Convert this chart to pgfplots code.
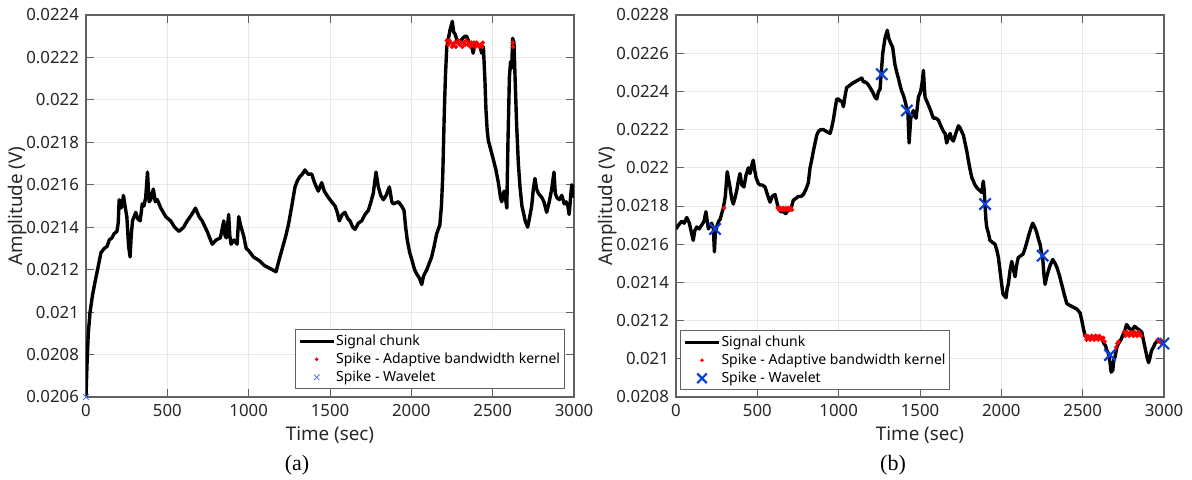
\documentclass[border=0pt]{standalone}
\usepackage{fontspec}
\setmainfont{Noto Sans}
\newfontfamily\capfont{Liberation Serif}
\usepackage{pgfplots}
\pgfplotsset{compat=1.18}

\definecolor{axgray}{rgb}{0.38,0.38,0.38}
\definecolor{txtgray}{rgb}{0.15,0.15,0.15}
\definecolor{spikeblue}{rgb}{0.05,0.25,0.85}

\pgfplotsset{
  matlab/.style={
    scale only axis, width=244pt, height=191pt,
    xmin=0, xmax=3000, xtick distance=500,
    scaled y ticks=false,
    /pgf/number format/assume math mode=true,
    yticklabel style={/pgf/number format/fixed, /pgf/number format/precision=4},
    xticklabel style={/pgf/number format/fixed, /pgf/number format/1000 sep={}},
    tick label style={font=\fontsize{8.4}{10}\selectfont, text=txtgray},
    label style={font=\fontsize{9.4}{11}\selectfont, text=txtgray},
    xlabel={Time (sec)}, ylabel={Amplitude (V)},
    xlabel style={yshift=2pt},
    ylabel style={at={(axis description cs:-0.141,0.5)}, anchor=center},
    axis line style={axgray, line width=0.6pt},
    tick style={axgray, line width=0.5pt},
    tick align=inside, major tick length=4pt,
    grid=major, grid style={gray!18, line width=0.4pt},
    legend style={font=\fontsize{7.0}{8.2}\selectfont, draw=axgray, fill=white,
      line width=0.5pt, inner sep=1.6pt, row sep=1pt,
      nodes={inner sep=0.6pt}, cells={anchor=west}},
    legend cell align=left,
  },
  sig/.style={black, line width=1.7pt, line join=round,
    legend image code/.code={\draw[##1, line width=1.3pt] (0pt,0pt) -- (17pt,0pt);}},
}

\begin{document}
\begin{tikzpicture}
\path[use as bounding box] (-43pt,-41pt) rectangle (553pt,198.5pt);

% ---------- (a) ----------
\begin{axis}[matlab, ymin=0.0206, ymax=0.0224, ytick distance=0.0002,
  legend style={at={(1,0)}, anchor=south east, xshift=-4.5pt, yshift=4pt}]
\addplot[sig] coordinates {
(0,0.02060) (6,0.02075) (14,0.02090) (25,0.02100) (40,0.02108) (55,0.02114)
(71,0.02120) (92,0.02128) (112,0.02130) (130,0.02131) (143,0.02134) (160,0.02135)
(173,0.02137) (190,0.02138) (198,0.02142) (204,0.02153) (214,0.02149) (222,0.02150)
(230,0.02155) (240,0.02150) (251,0.02145) (262,0.02131) (271,0.02126) (278,0.02136)
(286,0.02143) (296,0.02145) (306,0.02147) (318,0.02144) (333,0.02143) (346,0.02151)
(356,0.02150) (367,0.02154) (378,0.02166) (388,0.02152) (398,0.02153) (414,0.02158)
(426,0.02152) (438,0.02153) (460,0.02149) (490,0.02145) (520,0.02143) (545,0.02140)
(571,0.02138) (600,0.02140) (622,0.02143) (650,0.02146) (673,0.02149) (695,0.02145)
(714,0.02143) (745,0.02138) (776,0.02132) (800,0.02134) (826,0.02135) (847,0.02143)
(855,0.02136) (863,0.02135) (877,0.02146) (884,0.02136) (892,0.02132) (910,0.02134)
(929,0.02132) (939,0.02145) (950,0.02141) (969,0.02136) (985,0.02130) (1000,0.02129)
(1029,0.02126) (1050,0.02125) (1070,0.02124) (1095,0.02122) (1121,0.02121) (1145,0.02120)
(1168,0.02119) (1185,0.02124) (1203,0.02129) (1225,0.02135) (1244,0.02141) (1265,0.02150)
(1285,0.02159) (1300,0.02162) (1316,0.02164) (1330,0.02165) (1346,0.02167) (1365,0.02165)
(1388,0.02165) (1405,0.02161) (1428,0.02157) (1449,0.02161) (1465,0.02157) (1490,0.02154)
(1510,0.02152) (1531,0.02150) (1545,0.02147) (1557,0.02143) (1575,0.02146) (1592,0.02147)
(1610,0.02144) (1623,0.02143) (1640,0.02140) (1654,0.02139) (1675,0.02142) (1695,0.02143)
(1715,0.02146) (1736,0.02148) (1752,0.02152) (1766,0.02156) (1783,0.02166) (1797,0.02159)
(1812,0.02155) (1828,0.02153) (1845,0.02155) (1865,0.02159) (1880,0.02152) (1889,0.02151)
(1920,0.02152) (1940,0.02150) (1955,0.02148) (1965,0.02140) (1975,0.02134) (1990,0.02128)
(2002,0.02125) (2020,0.02120) (2033,0.02118) (2050,0.02116) (2064,0.02113) (2075,0.02117)
(2095,0.02120) (2110,0.02123) (2125,0.02126) (2140,0.02131) (2156,0.02137) (2175,0.02141)
(2185,0.02150) (2193,0.02164) (2203,0.02195) (2210,0.02212) (2218,0.02225) (2228,0.02229)
(2238,0.02233) (2252,0.02237) (2260,0.02232) (2269,0.02231) (2285,0.02227) (2299,0.02227)
(2315,0.02229) (2330,0.02230) (2340,0.02230) (2355,0.02227) (2370,0.02226) (2380,0.02222)
(2392,0.02227) (2410,0.02226) (2422,0.02225) (2433,0.02222) (2443,0.02225) (2452,0.02210)
(2459,0.02195) (2466,0.02186) (2473,0.02181) (2490,0.02176) (2504,0.02172) (2520,0.02167)
(2535,0.02161) (2548,0.02154) (2556,0.02152) (2570,0.02157) (2580,0.02153) (2587,0.02149)
(2594,0.02180) (2603,0.02211) (2610,0.02218) (2617,0.02215) (2623,0.02229) (2631,0.02227)
(2640,0.02205) (2648,0.02187) (2658,0.02170) (2668,0.02159) (2680,0.02150) (2689,0.02147)
(2700,0.02143) (2715,0.02140) (2728,0.02145) (2740,0.02150) (2750,0.02158) (2760,0.02163)
(2770,0.02158) (2781,0.02156) (2802,0.02154) (2815,0.02152) (2832,0.02147) (2848,0.02152)
(2863,0.02158) (2877,0.02166) (2885,0.02156) (2894,0.02154) (2910,0.02153) (2925,0.02155)
(2940,0.02151) (2951,0.02152) (2962,0.02150) (2970,0.02146) (2980,0.02155) (2986,0.02160)
(2993,0.02159) (3000,0.02154)
};
\addlegendentry{Signal chunk}
\addplot[only marks, mark=*, mark size=0.9pt, red, mark options={draw=red, fill=red},
  legend image post style={mark size=0.6pt}] coordinates {
(2218,0.02228) (2226,0.02226) (2234,0.02228) (2242,0.02227) (2250,0.02225) (2258,0.02226)
(2266,0.02227) (2274,0.02225) (2282,0.02227) (2290,0.02228) (2298,0.02226) (2306,0.02227)
(2314,0.02225) (2322,0.02227) (2330,0.02226) (2338,0.02228) (2346,0.02226) (2354,0.02227)
(2362,0.02225) (2370,0.02227) (2378,0.02226) (2386,0.02227) (2394,0.02225) (2402,0.02227)
(2410,0.02226) (2418,0.02225) (2426,0.02226) (2434,0.02225) (2440,0.02227)
(2623,0.02227) (2626,0.02225)
};
\addlegendentry{Spike - Adaptive bandwidth kernel}
\addplot[only marks, mark=x, mark size=2pt, spikeblue!70, line width=0.4pt] coordinates {
(0,0.02060)
};
\addlegendentry{Spike - Wavelet}
\end{axis}
\node[font=\capfont\fontsize{11}{13}\selectfont] at (105.5pt,-34pt) {(a)};

% ---------- (b) ----------
\begin{axis}[matlab, at={(295pt,0pt)}, ymin=0.0208, ymax=0.0228, ytick distance=0.0002,
  legend style={at={(0,0)}, anchor=south west, xshift=2pt, yshift=3.5pt}]
\addplot[sig] coordinates {
(0,0.02168) (15,0.02170) (35,0.02172) (50,0.02171) (66,0.02174) (82,0.02171)
(95,0.02166) (106,0.02162) (115,0.02167) (127,0.02169) (142,0.02168) (158,0.02170)
(172,0.02172) (184,0.02177) (192,0.02172) (199,0.02168) (210,0.02170) (219,0.02171)
(230,0.02168) (236,0.02156) (242,0.02166) (250,0.02169) (262,0.02172) (271,0.02173)
(281,0.02176) (291,0.02179) (303,0.02185) (315,0.02198) (323,0.02194) (332,0.02190)
(342,0.02184) (352,0.02181) (362,0.02184) (373,0.02188) (383,0.02193) (393,0.02197)
(405,0.02191) (418,0.02190) (430,0.02196) (445,0.02200) (455,0.02197) (465,0.02201)
(475,0.02204) (483,0.02199) (492,0.02195) (505,0.02192) (516,0.02191) (530,0.02191)
(547,0.02190) (562,0.02186) (578,0.02182) (592,0.02185) (609,0.02186) (620,0.02182)
(629,0.02179) (645,0.02177) (660,0.02177) (675,0.02176) (690,0.02178) (705,0.02178)
(721,0.02183) (737,0.02184) (752,0.02185) (768,0.02185) (783,0.02186) (800,0.02189)
(813,0.02192) (824,0.02200) (834,0.02204) (845,0.02209) (855,0.02213) (865,0.02217)
(875,0.02219) (890,0.02220) (906,0.02220) (925,0.02219) (947,0.02218) (957,0.02221)
(967,0.02225) (978,0.02231) (988,0.02236) (1000,0.02236) (1008,0.02235) (1019,0.02235)
(1029,0.02232) (1040,0.02238) (1049,0.02242) (1066,0.02243) (1080,0.02244) (1100,0.02245)
(1121,0.02246) (1142,0.02247) (1152,0.02245) (1162,0.02245) (1178,0.02244) (1193,0.02242)
(1213,0.02239) (1223,0.02237) (1234,0.02236) (1245,0.02240) (1254,0.02241) (1262,0.02250)
(1271,0.02260) (1285,0.02268) (1292,0.02270) (1299,0.02272) (1307,0.02268) (1316,0.02266)
(1332,0.02263) (1346,0.02254) (1357,0.02250) (1367,0.02247) (1378,0.02243) (1388,0.02240)
(1398,0.02238) (1408,0.02235) (1419,0.02231) (1425,0.02230) (1433,0.02213) (1443,0.02226)
(1451,0.02228) (1459,0.02230) (1468,0.02227) (1476,0.02226) (1490,0.02237) (1504,0.02240)
(1514,0.02245) (1521,0.02251) (1526,0.02243) (1531,0.02237) (1541,0.02235) (1551,0.02233)
(1565,0.02230) (1582,0.02226) (1597,0.02226) (1613,0.02225) (1628,0.02222) (1644,0.02219)
(1654,0.02218) (1664,0.02213) (1675,0.02216) (1685,0.02218) (1695,0.02215) (1705,0.02214)
(1720,0.02218) (1736,0.02222) (1746,0.02221) (1756,0.02219) (1767,0.02217) (1777,0.02213)
(1787,0.02209) (1797,0.02204) (1808,0.02199) (1818,0.02195) (1828,0.02193) (1838,0.02191)
(1855,0.02189) (1869,0.02188) (1880,0.02187) (1889,0.02193) (1895,0.02188) (1900,0.02180)
(1905,0.02173) (1910,0.02169) (1920,0.02166) (1930,0.02162) (1945,0.02161) (1961,0.02160)
(1972,0.02157) (1982,0.02153) (1992,0.02146) (2002,0.02139) (2010,0.02134) (2018,0.02133)
(2029,0.02132) (2036,0.02137) (2043,0.02139) (2053,0.02146) (2064,0.02151) (2074,0.02147)
(2084,0.02143) (2094,0.02149) (2104,0.02153) (2120,0.02154) (2135,0.02155) (2150,0.02159)
(2166,0.02164) (2180,0.02168) (2193,0.02171) (2205,0.02169) (2218,0.02166) (2230,0.02162)
(2238,0.02160) (2248,0.02155) (2254,0.02153) (2262,0.02144) (2269,0.02139) (2279,0.02143)
(2289,0.02146) (2300,0.02149) (2316,0.02152) (2330,0.02150) (2341,0.02148) (2356,0.02144)
(2371,0.02139) (2386,0.02134) (2402,0.02129) (2420,0.02128) (2443,0.02127) (2465,0.02126)
(2484,0.02124) (2495,0.02120) (2504,0.02116) (2515,0.02112) (2535,0.02111) (2556,0.02111)
(2580,0.02112) (2600,0.02111) (2617,0.02111) (2630,0.02108) (2640,0.02107) (2650,0.02104)
(2658,0.02103) (2668,0.02098) (2675,0.02093) (2685,0.02094) (2692,0.02100) (2699,0.02101)
(2710,0.02106) (2720,0.02108) (2735,0.02110) (2750,0.02113) (2760,0.02115) (2770,0.02118)
(2785,0.02116) (2801,0.02115) (2820,0.02117) (2832,0.02116) (2850,0.02115) (2863,0.02114)
(2873,0.02110) (2883,0.02106) (2895,0.02101) (2905,0.02098) (2912,0.02100) (2922,0.02104)
(2934,0.02106) (2945,0.02108) (2955,0.02109) (2970,0.02110) (2985,0.02109) (3000,0.02108)
};
\addlegendentry{Signal chunk}
\addplot[only marks, mark=*, mark size=0.9pt, red, mark options={draw=red, fill=red},
  legend image post style={mark size=0.6pt}] coordinates {
(295,0.02179)
(625,0.02179) (633,0.02178) (641,0.02179) (649,0.02178) (657,0.02179) (665,0.02178)
(673,0.02179) (681,0.02178) (689,0.02179) (697,0.02178) (705,0.02179) (713,0.02178)
(2515,0.02112) (2523,0.02110) (2531,0.02112) (2539,0.02111) (2547,0.02110) (2555,0.02112)
(2563,0.02111) (2571,0.02110) (2579,0.02112) (2587,0.02111) (2595,0.02110) (2603,0.02112)
(2611,0.02111) (2619,0.02110) (2627,0.02111) (2635,0.02109)
(2705,0.02106) (2713,0.02108) (2721,0.02109)
(2755,0.02114) (2763,0.02112) (2771,0.02114) (2779,0.02113) (2787,0.02112) (2795,0.02114)
(2803,0.02113) (2811,0.02112) (2819,0.02114) (2827,0.02113) (2835,0.02112) (2843,0.02114)
(2851,0.02113) (2859,0.02112)
(2962,0.02110) (2970,0.02109) (2978,0.02110) (2986,0.02108)
};
\addlegendentry{Spike - Adaptive bandwidth kernel}
\addplot[only marks, mark=x, mark size=4pt, spikeblue, line width=1.1pt,
  legend image post style={mark size=3.4pt}] coordinates {
(240,0.02168) (1265,0.02249) (1419,0.02230) (1900,0.02181) (2254,0.02154)
(2668,0.02102) (2996,0.02108)
};
\addlegendentry{Spike - Wavelet}
\end{axis}
\node[font=\capfont\fontsize{11}{13}\selectfont] at (403.5pt,-34pt) {(b)};
\end{tikzpicture}
\end{document}
